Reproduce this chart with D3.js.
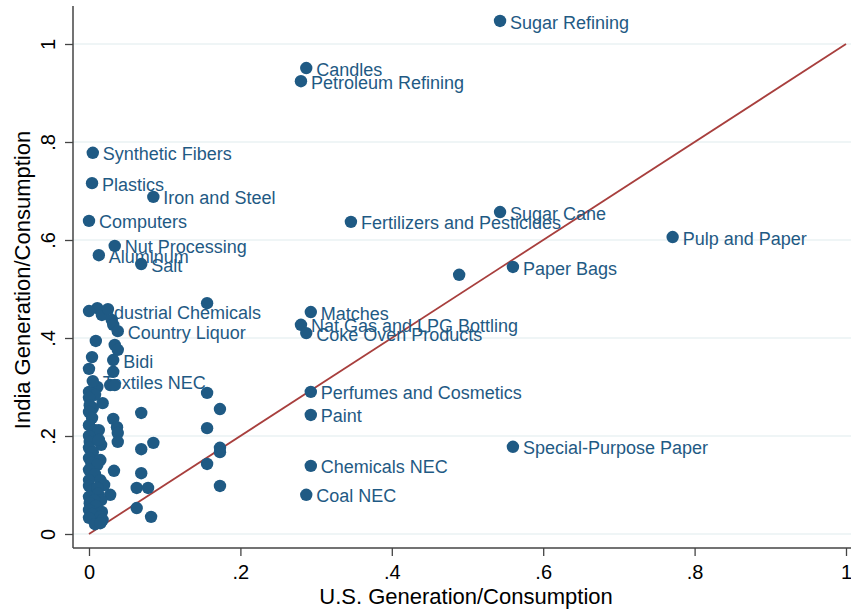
<!DOCTYPE html>
<html>
<head>
<meta charset="utf-8">
<script src="https://cdn.jsdelivr.net/npm/d3@7"></script>
<style>
  body { margin: 0; background: #fff; }
  svg { font-family: "Liberation Sans", Arial, sans-serif; }
</style>
</head>
<body>
<svg id="chart" width="851" height="609"></svg>
<script>
// labelled industries
const names = ["Sugar Refining", "Candles", "Petroleum Refining", "Synthetic Fibers", "Plastics",
    "Iron and Steel", "Computers", "Nut Processing", "Aluminum", "Salt",
    "Fertilizers and Pesticides", "Sugar Cane", "Pulp and Paper", "Paper Bags",
    "Industrial Chemicals", "Country Liquor", "Bidi", "Textiles NEC", "Matches",
    "Nat Gas and LPG Bottling", "Coke Oven Products", "Perfumes and Cosmetics", "Paint",
    "Chemicals NEC", "Coal NEC", "Special-Purpose Paper"];
const usVals = [0.543, 0.287, 0.280, 0.005, 0.004, 0.085, 0.000, 0.034, 0.013, 0.069,
    0.346, 0.543, 0.771, 0.560, 0.000, 0.038, 0.032, 0.005, 0.293,
    0.280, 0.287, 0.293, 0.293, 0.293, 0.287, 0.560];
const indiaVals = [1.047, 0.951, 0.924, 0.778, 0.716, 0.688, 0.639, 0.588, 0.569, 0.551,
    0.637, 0.657, 0.606, 0.545, 0.455, 0.414, 0.355, 0.312, 0.453,
    0.427, 0.410, 0.290, 0.243, 0.139, 0.080, 0.178];

// unlabelled industries
const usOther = [0.489, 0.156, 0.156, 0.173, 0.156, 0.173, 0.173, 0.156, 0.173, 0.069,
    0.085, 0.069, 0.033, 0.069, 0.063, 0.078, 0.028, 0.063, 0.082,
    0.011, 0.017, 0.025, 0.030, 0.032, 0.009, 0.034, 0.038, 0.004, 0.000,
    0.032, 0.011, 0.028, 0.034, 0.018, 0.032, 0.037, 0.038, 0.038, 0.016,
    0.000, 0.008, 0.000, 0.005, 0.001, 0.000, 0.004, 0.000, 0.008, 0.013,
    0.000, 0.001, 0.013, 0.000, 0.005, 0.000, 0.015, 0.003, 0.011, 0.000,
    0.008, 0.000, 0.015, 0.020, 0.000, 0.005, 0.011, 0.012, 0.000, 0.016,
    0.007, 0.001, 0.009, 0.000, 0.017, 0.004, 0.015, 0.000, 0.018, 0.008, 0.015];
const indiaOther = [0.529, 0.471, 0.288, 0.255, 0.216, 0.176, 0.167, 0.143, 0.098, 0.247,
    0.186, 0.173, 0.129, 0.124, 0.094, 0.094, 0.080, 0.053, 0.035,
    0.461, 0.447, 0.459, 0.437, 0.427, 0.394, 0.386, 0.376, 0.361, 0.337,
    0.331, 0.300, 0.304, 0.304, 0.267, 0.235, 0.218, 0.206, 0.188, 0.182,
    0.290, 0.284, 0.278, 0.257, 0.263, 0.249, 0.237, 0.222, 0.212, 0.212,
    0.200, 0.188, 0.192, 0.176, 0.167, 0.155, 0.151, 0.145, 0.141, 0.131,
    0.122, 0.110, 0.110, 0.100, 0.098, 0.090, 0.094, 0.082, 0.076, 0.069,
    0.069, 0.063, 0.057, 0.049, 0.045, 0.041, 0.035, 0.033, 0.029, 0.020, 0.022];

const tickVals = [0, 0.2, 0.4, 0.6, 0.8, 1];

const svg = d3.select("#chart");
const navy = "#1f5a84";
const plotL = 73, plotR = 851, plotT = 6, plotB = 548;

const x = d3.scaleLinear().domain([0, 1]).range([89, 846]);
const y = d3.scaleLinear().domain([0, 1]).range([534, 44]);

const fmt = d => d === 0 ? "0" : d === 1 ? "1" : String(d).replace("0.", ".");

// gridlines
svg.selectAll(".grid")
    .data(tickVals).enter()
    .append("line")
    .attr("x1", plotL).attr("x2", plotR)
    .attr("y1", d => y(d)).attr("y2", d => y(d))
    .style("stroke", "#eaf2f3")
    .style("stroke-width", 1.5);

// 45 degree line
svg.append("line")
    .attr("x1", x(0)).attr("y1", y(0))
    .attr("x2", x(1)).attr("y2", y(1))
    .style("stroke", "#a83f3d")
    .style("stroke-width", 1.8);

// axes
const xAxis = svg.append("g")
    .attr("transform", "translate(0," + plotB + ")")
    .call(d3.axisBottom(x).tickValues(tickVals).tickSize(8).tickFormat(fmt));
xAxis.select(".domain").remove();
xAxis.selectAll("text").attr("y", 31).attr("dy", 0).style("font-size", "20px").style("fill", "#000");

const yAxis = svg.append("g")
    .attr("transform", "translate(" + plotL + ",0)")
    .call(d3.axisLeft(y).tickValues(tickVals).tickSize(8).tickFormat(fmt));
yAxis.select(".domain").remove();
yAxis.selectAll("text")
    .attr("x", 0).attr("dy", 0)
    .attr("text-anchor", "middle")
    .attr("transform", "translate(-18,0) rotate(-90)")
    .style("font-size", "20px").style("fill", "#000");

svg.selectAll(".tick line").style("stroke", "#444").style("stroke-width", 1.3);

svg.append("line")
    .attr("x1", plotL).attr("x2", plotR).attr("y1", plotB).attr("y2", plotB)
    .style("stroke", "#444").style("stroke-width", 1.5);
svg.append("line")
    .attr("x1", plotL).attr("x2", plotL).attr("y1", plotT).attr("y2", plotB)
    .style("stroke", "#444").style("stroke-width", 1.5);

// axis titles
svg.append("text")
    .attr("x", (plotL + plotR) / 2 + 4).attr("y", 604)
    .attr("text-anchor", "middle")
    .style("font-size", "22px")
    .text("U.S. Generation/Consumption");
svg.append("text")
    .attr("transform", "translate(30," + ((plotT + plotB) / 2 + 3) + ") rotate(-90)")
    .attr("text-anchor", "middle")
    .style("font-size", "22px")
    .text("India Generation/Consumption");

// points
const others = usOther.map((d, i) => ({us: d, india: indiaOther[i]}));
const labelled = names.map((n, i) => ({name: n, us: usVals[i], india: indiaVals[i]}));

svg.selectAll(".other")
    .data(others).enter()
    .append("circle")
    .attr("cx", d => x(d.us)).attr("cy", d => y(d.india))
    .attr("r", 6.2)
    .style("fill", navy);

svg.selectAll(".lab")
    .data(labelled).enter()
    .append("circle")
    .attr("cx", d => x(d.us)).attr("cy", d => y(d.india))
    .attr("r", 6.2)
    .style("fill", navy);

svg.selectAll(".labtext")
    .data(labelled).enter()
    .append("text")
    .attr("x", d => x(d.us) + 10)
    .attr("y", d => y(d.india))
    .attr("dy", "0.42em")
    .style("font-size", "18px")
    .style("fill", navy)
    .text(d => d.name);
</script>
</body>
</html>
